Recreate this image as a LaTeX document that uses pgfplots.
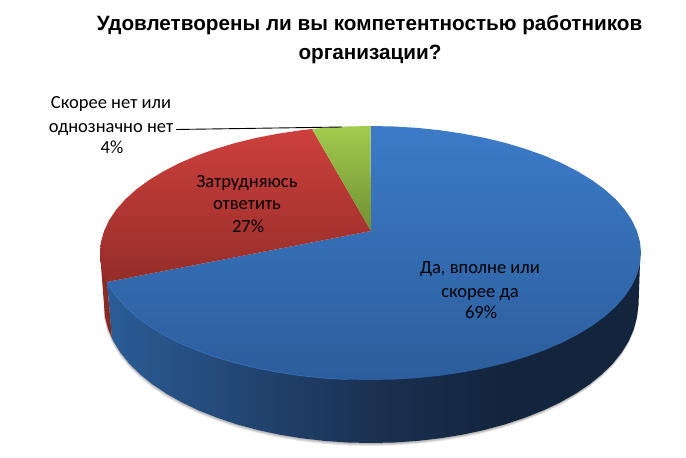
\documentclass[border=0pt]{standalone}
\usepackage{pgfplots}
\pgfplotsset{compat=1.18}
\usepackage{fontspec}
\setmainfont{Carlito}
\newfontfamily\titlefont{Liberation Sans}
\definecolor{bluetop}{HTML}{3C7BC8}
\definecolor{bluebot}{HTML}{2C5D9C}
\definecolor{bluesideA}{HTML}{2A5C96}
\definecolor{bluesideB}{HTML}{1A3152}
\definecolor{bluesideC}{HTML}{13253D}
\definecolor{redtop}{HTML}{CD403D}
\definecolor{redbot}{HTML}{952D28}
\definecolor{greentop}{HTML}{A2CB4E}
\definecolor{greenbot}{HTML}{6F9032}
\begin{document}
\begin{tikzpicture}
\begin{axis}[
  at={(0,0)}, anchor=south west, scale only axis,
  width=686bp, height=458bp,
  xmin=0, xmax=686, ymin=0, ymax=458, y dir=reverse,
  hide axis, clip=false,
  every axis plot/.append style={line join=round},
]
% page
\addplot[draw=none, fill=white] coordinates {(0,0) (686,0) (686,458) (0,458)} --cycle;
% soft shadow under the side
\pgfplotsforeachungrouped \s in {1,2,3}{
\edef\tmp{\noexpand\addplot[draw=none, fill=black, fill opacity=0.10, yshift=-\s bp, xshift={(\s-1)*-0.3bp}]}
\tmp coordinates {
(640,262) (638.5,305) (637,317) (633.9,329) (628.9,340.7) (621.9,352.2) (613,363.3) (602.2,374) (589.7,384.2) (575.5,393.7) (559.8,402.6) (542.6,410.7) (524.2,418) (504.5,424.5) (483.8,430.1) (462.3,434.7) (440.1,438.3) (417.4,440.9) (394.3,442.5) (371,443) (347.7,442.5) (324.6,440.9) (301.9,438.3) (279.7,434.7) (258.2,430.1) (237.5,424.5) (217.8,418) (199.4,410.7) (182.2,402.6) (166.5,393.7) (152.3,384.2) (139.8,374) (129,363.3) (120.1,352.2) (113.1,340.7) (108.1,329) (105,317) (104,305) (371,300)
} --cycle;
}
% red side
\addplot[draw=none, left color=redbot, right color=redbot!85!black] coordinates {
(100,253) (104,305) (105,317) (108.1,329) (112,338) (107,282)
} --cycle;
% blue side, left of the middle
\addplot[draw=none, left color=bluesideA, right color=bluesideB] coordinates {
(371,443) (347.7,442.5) (324.6,440.9) (301.9,438.3) (279.7,434.7) (258.2,430.1) (237.5,424.5) (217.8,418) (199.4,410.7) (182.2,402.6) (166.5,393.7) (152.3,384.2) (139.8,374) (129,363.3) (120.1,352.2) (113.1,340.7) (112,338) (107,282) (371,282)
} --cycle;
% blue side, right of the middle
\addplot[draw=none, left color=bluesideB, right color=bluesideC, middle color=bluesideC] coordinates {
(371,300) (640,262) (638.5,305) (637,317) (633.9,329) (628.9,340.7) (621.9,352.2) (613,363.3) (602.2,374) (589.7,384.2) (575.5,393.7) (559.8,402.6) (542.6,410.7) (524.2,418) (504.5,424.5) (483.8,430.1) (462.3,434.7) (440.1,438.3) (417.4,440.9) (394.3,442.5) (371,443)
} --cycle;
% blue top, 69 %
\addplot[draw=none, top color=bluetop, bottom color=bluebot] coordinates {
(371,231) (370.5,126) (394.1,126.5) (417.5,127.9) (440.5,130.3) (463,133.7) (484.8,137.9) (505.8,143) (525.7,149) (544.4,155.7) (561.8,163.2) (577.7,171.4) (592.1,180.2) (604.8,189.5) (615.7,199.3) (624.7,209.6) (631.8,220.1) (636.9,231) (640,241.9) (641,253) (640,264.1) (636.9,275) (631.8,285.9) (624.7,296.4) (615.7,306.7) (604.8,316.5) (592.1,325.8) (577.7,334.6) (561.8,342.8) (544.4,350.3) (525.7,357) (505.8,363) (484.8,368.1) (463,372.3) (440.5,375.7) (417.5,378.1) (394.1,379.5) (370.5,380) (346.9,379.5) (323.5,378.1) (300.5,375.7) (278,372.3) (256.2,368.1) (235.2,363) (215.3,357) (196.6,350.3) (179.2,342.8) (163.3,334.6) (148.9,325.8) (136.2,316.5) (125.3,306.7) (116.3,296.4) (109.2,285.9) (107,282)
} --cycle;
% red top, 27 %
\addplot[draw=none, top color=redtop, bottom color=redbot] coordinates {
(371,231) (107,282) (104.1,275) (101,264.1) (100,253) (101,241.9) (104.1,231) (109.2,220.1) (116.3,209.6) (125.3,199.3) (136.2,189.5) (148.9,180.2) (163.3,171.4) (179.2,163.2) (196.6,155.7) (215.3,149) (235.2,143) (256.2,137.9) (278,133.7) (300.5,130.3) (312,129)
} --cycle;
% green top, 4 %
\addplot[draw=none, top color=greentop, bottom color=greenbot] coordinates {
(371,231) (312,129) (323.5,127.9) (346.9,126.5) (370.5,126)
} --cycle;
% light rim on the front edge
\addplot[no marks, color=bluetop, line width=0.7pt, opacity=0.7] coordinates {
(107,282) (109.2,285.9) (116.3,296.4) (125.3,306.7) (136.2,316.5) (148.9,325.8) (163.3,334.6) (179.2,342.8) (196.6,350.3) (215.3,357) (235.2,363) (256.2,368.1) (278,372.3) (300.5,375.7) (323.5,378.1) (346.9,379.5)
};
% leader line
\addplot[no marks, color=black, line width=0.9pt] coordinates {(176,129.5) (342,127)};
% texts
\node[anchor=base, font=\titlefont\bfseries\fontsize{20.7bp}{20.7bp}\selectfont] at (axis cs:369.5,31) {Удовлетворены ли вы компетентностью работников};
\node[anchor=base, font=\titlefont\bfseries\fontsize{20.7bp}{20.7bp}\selectfont] at (axis cs:370,60) {организации?};
\tikzset{lab/.style={anchor=base, text=black, font=\fontsize{18.5bp}{18.5bp}\selectfont, inner sep=0pt}}
\node[lab] at (axis cs:111,108) {Скорее нет или};
\node[lab] at (axis cs:111,132) {однозначно нет};
\node[lab] at (axis cs:112,153) {4\%};
\node[lab] at (axis cs:247,187) {Затрудняюсь};
\node[lab] at (axis cs:247,209) {ответить};
\node[lab] at (axis cs:248,232) {27\%};
\node[lab] at (axis cs:480,273) {Да, вполне или};
\node[lab] at (axis cs:480,297) {скорее да};
\node[lab] at (axis cs:481,318) {69\%};
\end{axis}
\end{tikzpicture}
\end{document}
